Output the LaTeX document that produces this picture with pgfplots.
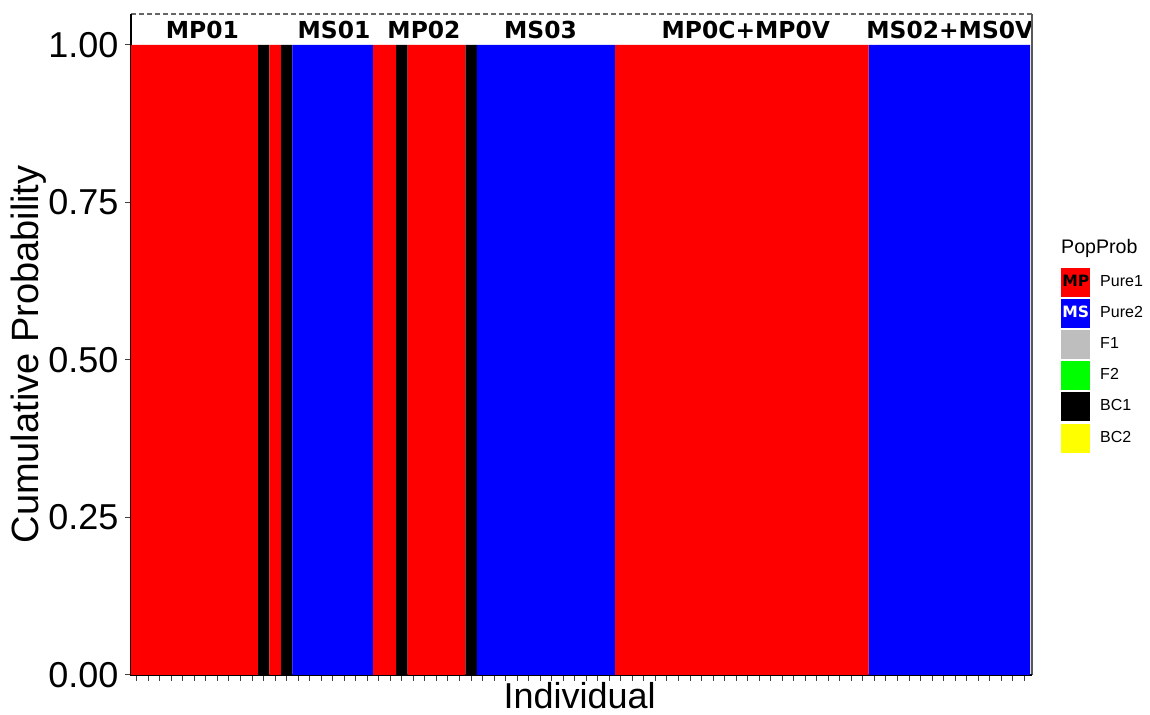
\documentclass[border=0pt]{standalone}
\usepackage{fontspec}
\setmainfont{Liberation Sans}
\newfontfamily\stripfont{DejaVu Sans}
\usepackage{pgfplots}
\usepackage{pgfplotstable}
\pgfplotsset{compat=1.18}

% one row per individual: membership probability of each class
\pgfplotstableread{
id P1 P2 F1 F2 BC1 BC2
1  1 0 0 0 0 0
2  1 0 0 0 0 0
3  1 0 0 0 0 0
4  1 0 0 0 0 0
5  1 0 0 0 0 0
6  1 0 0 0 0 0
7  1 0 0 0 0 0
8  1 0 0 0 0 0
9  1 0 0 0 0 0
10 1 0 0 0 0 0
11 1 0 0 0 0 0
12 0 0 0 0 1 0
13 1 0 0 0 0 0
14 0 0 0 0 1 0
15 0 1 0 0 0 0
16 0 1 0 0 0 0
17 0 1 0 0 0 0
18 0 1 0 0 0 0
19 0 1 0 0 0 0
20 0 1 0 0 0 0
21 0 1 0 0 0 0
22 1 0 0 0 0 0
23 1 0 0 0 0 0
24 0 0 0 0 1 0
25 1 0 0 0 0 0
26 1 0 0 0 0 0
27 1 0 0 0 0 0
28 1 0 0 0 0 0
29 1 0 0 0 0 0
30 0 0 0 0 1 0
31 0 1 0 0 0 0
32 0 1 0 0 0 0
33 0 1 0 0 0 0
34 0 1 0 0 0 0
35 0 1 0 0 0 0
36 0 1 0 0 0 0
37 0 1 0 0 0 0
38 0 1 0 0 0 0
39 0 1 0 0 0 0
40 0 1 0 0 0 0
41 0 1 0 0 0 0
42 0 1 0 0 0 0
43 1 0 0 0 0 0
44 1 0 0 0 0 0
45 1 0 0 0 0 0
46 1 0 0 0 0 0
47 1 0 0 0 0 0
48 1 0 0 0 0 0
49 1 0 0 0 0 0
50 1 0 0 0 0 0
51 1 0 0 0 0 0
52 1 0 0 0 0 0
53 1 0 0 0 0 0
54 1 0 0 0 0 0
55 1 0 0 0 0 0
56 1 0 0 0 0 0
57 1 0 0 0 0 0
58 1 0 0 0 0 0
59 1 0 0 0 0 0
60 1 0 0 0 0 0
61 1 0 0 0 0 0
62 1 0 0 0 0 0
63 1 0 0 0 0 0
64 1 0 0 0 0 0
65 0 1 0 0 0 0
66 0 1 0 0 0 0
67 0 1 0 0 0 0
68 0 1 0 0 0 0
69 0 1 0 0 0 0
70 0 1 0 0 0 0
71 0 1 0 0 0 0
72 0 1 0 0 0 0
73 0 1 0 0 0 0
74 0 1 0 0 0 0
75 0 1 0 0 0 0
76 0 1 0 0 0 0
77 0 1 0 0 0 0
78 0 1 0 0 0 0
}\probs

\definecolor{grayF1}{HTML}{BEBEBE}
\definecolor{greenF2}{HTML}{00FF00}
\definecolor{yellowBC2}{HTML}{FFFF00}

\tikzset{
  strip/.style={font=\stripfont\bfseries\fontsize{11.7}{14}\selectfont},
  keytext/.style={font=\stripfont\bfseries\fontsize{7.8}{9}\selectfont, inner sep=0pt, anchor=center},
}

\begin{document}
\begin{tikzpicture}
\path[use as bounding box] (0,0) rectangle (575pt,357.5pt);
\begin{axis}[
  at={(65.5pt,20pt)}, anchor=south west,
  scale only axis,
  width=450.5pt, height=330.5pt,
  ybar stacked, bar width=1,
  xmin=0.5, xmax=78.67,
  ymin=0, ymax=1.0492,
  clip=false,
  axis line style={draw=none},
  xtick={1,...,78}, xticklabels={},
  ytick={0,0.25,0.5,0.75,1},
  xtick pos=bottom, ytick pos=left,
  tick align=outside,
  major tick length=2.8pt,
  tick style={black!75, line width=0.5pt},
  /pgf/number format/assume math mode=true,
  yticklabel style={/pgf/number format/fixed, /pgf/number format/fixed zerofill,
    /pgf/number format/precision=2, font=\fontsize{18}{20}\selectfont},
  ylabel={Cumulative Probability},
  ylabel style={font=\fontsize{19}{22}\selectfont, at={(axis description cs:-0.114,0.485)}, anchor=center},
  xlabel={Individual},
  xlabel style={font=\fontsize{18}{21}\selectfont, inner sep=0pt, at={(axis description cs:0.498,-0.031)}, anchor=center},
  legend style={at={(axis description cs:1.032,0.617)}, anchor=north west,
    draw=none, fill=none, inner sep=0pt, row sep=1.1pt, column sep=3pt,
    font=\fontsize{8}{9}\selectfont},
  legend cell align=left,
]
\addplot[fill=red, draw=none,
  legend image code/.code={\fill[red] (0pt,-7.25pt) rectangle (14.5pt,7.25pt);
    \node[keytext, text=black] at (7.25pt,0pt) {MP};}]
  table[x=id, y=P1] {\probs};
\addlegendentry{Pure1}
\addplot[fill=blue, draw=none,
  legend image code/.code={\fill[blue] (0pt,-7.25pt) rectangle (14.5pt,7.25pt);
    \node[keytext, text=white] at (7.25pt,0pt) {MS};}]
  table[x=id, y=P2] {\probs};
\addlegendentry{Pure2}
\addplot[fill=grayF1, draw=none,
  legend image code/.code={\fill[grayF1] (0pt,-7.25pt) rectangle (14.5pt,7.25pt);}]
  table[x=id, y=F1] {\probs};
\addlegendentry{F1}
\addplot[fill=greenF2, draw=none,
  legend image code/.code={\fill[greenF2] (0pt,-7.25pt) rectangle (14.5pt,7.25pt);}]
  table[x=id, y=F2] {\probs};
\addlegendentry{F2}
\addplot[fill=black, draw=none,
  legend image code/.code={\fill[black] (0pt,-7.25pt) rectangle (14.5pt,7.25pt);}]
  table[x=id, y=BC1] {\probs};
\addlegendentry{BC1}
\addplot[fill=yellowBC2, draw=none,
  legend image code/.code={\fill[yellowBC2] (0pt,-7.25pt) rectangle (14.5pt,7.25pt);}]
  table[x=id, y=BC2] {\probs};
\addlegendentry{BC2}

\draw[black, line width=0.6pt] (rel axis cs:0,1) -- (rel axis cs:0,0) -- (rel axis cs:1,0);
\draw[black!65, line width=0.6pt] (rel axis cs:1,0) -- (rel axis cs:1,1);
\draw[black!60, line width=0.6pt, dash pattern=on 2.5pt off 1.5pt] (rel axis cs:0,1) -- (rel axis cs:1,1);

\node[strip] at (axis cs:6.70,1.0238) {MP01};
\node[strip] at (axis cs:18.11,1.0238) {MS01};
\node[strip] at (axis cs:25.92,1.0238) {MP02};
\node[strip] at (axis cs:36.03,1.0238) {MS03};
\node[strip] at (axis cs:53.84,1.0238) {MP0C+MP0V};
\node[strip] at (axis cs:71.54,1.0238) {MS02+MS0V};
\node[anchor=west, inner sep=0pt, font=\fontsize{9.8}{11}\selectfont] at (axis description cs:1.032,0.646) {PopProb};
\end{axis}
\end{tikzpicture}
\end{document}
